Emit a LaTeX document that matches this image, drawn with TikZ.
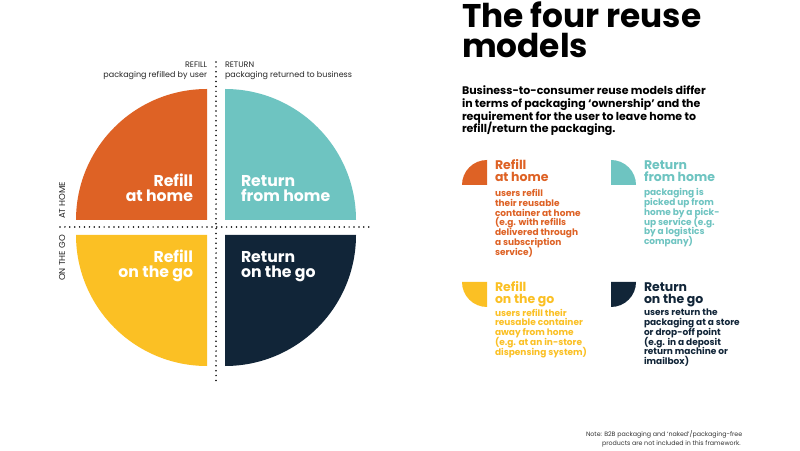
\documentclass[tikz,border=0pt]{standalone}
\usepackage{fontspec}
\setmainfont{Poppins}
\setlength{\lineskiplimit}{-30pt}
\definecolor{qorange}{RGB}{222,98,37}
\definecolor{qteal}{RGB}{110,196,193}
\definecolor{qyellow}{RGB}{251,192,36}
\definecolor{qnavy}{RGB}{17,37,56}
\begin{document}
\begin{tikzpicture}[x=1pt,y=1pt,
  every node/.style={inner sep=0pt, outer sep=0pt},
  dotline/.style={line width=1.7pt, line cap=round, dash pattern=on 0pt off 4.9pt},
  quadlabel/.style={text=white, font=\bfseries\fontsize{15.7}{15.5}\selectfont},
  axislabel/.style={font=\fontsize{8}{10}\selectfont, text=black!85},
  sidelabel/.style={font=\fontsize{8.6}{10}\selectfont, text=black!85, rotate=90},
  ltitle/.style={anchor=base west, align=left, font=\bfseries\fontsize{12.5}{11.7}\selectfont},
  ldesc/.style={anchor=base west, align=left, font=\bfseries\fontsize{9}{9.75}\selectfont},
]
\useasboundingbox[fill=white] (0,0) rectangle (800,450);

% quadrants
\fill[qorange] (207,230) -- (76,230) arc[start angle=180,end angle=90,radius=131pt] -- cycle;
\fill[qteal] (225,230) -- (225,361) arc[start angle=90,end angle=0,radius=131pt] -- cycle;
\fill[qyellow] (207,215) -- (207,84) arc[start angle=270,end angle=180,radius=131pt] -- cycle;
\fill[qnavy] (225,215) -- (356,215) arc[start angle=0,end angle=-90,radius=131pt] -- cycle;

% dotted axes
\coordinate (vtop) at (216,388);
\coordinate (vbot) at (216,65);
\coordinate (hleft) at (60,223);
\coordinate (hright) at (373,223);
\draw[dotline] (vtop) -- (vbot);
\draw[dotline] (hleft) -- (hright);

% axis labels
\node[axislabel, anchor=base east, align=right] (refill) at (207,372) {REFILL\\packaging refilled by user};
\node[axislabel, anchor=base west, align=left] (return) at (225,372) {RETURN\\packaging returned to business};
\node[sidelabel, anchor=base west] (athome) at (65,231) {AT HOME};
\node[sidelabel, anchor=base east] (onthego) at (65,215) {ON THE GO};

% quadrant labels
\node[quadlabel, anchor=base east, align=right] (q1) at (193,248) {Refill\\at home};
\node[quadlabel, anchor=base west, align=left] (q2) at (241,248) {Return\\from home};
\node[quadlabel, anchor=base east, align=right] (q3) at (193,172) {Refill\\on the go};
\node[quadlabel, anchor=base west, align=left] (q4) at (241,172) {Return\\on the go};

% title
\node[anchor=base west, align=left, font=\bfseries\fontsize{32.8}{30}\selectfont] (title) at (462,392) {The four reuse\\models};
\node[anchor=base west, align=left, font=\bfseries\fontsize{11}{12.7}\selectfont] (sub) at (462,317) {Business-to-consumer reuse models differ\\in terms of packaging ‘ownership’ and the\\requirement for the user to leave home to\\refill/return the packaging.};

% legend icons
\fill[qorange] (487,265) -- (462,265) arc[start angle=180,end angle=90,radius=25pt] -- cycle;
\fill[qteal] (611,265) -- (611,290) arc[start angle=90,end angle=0,radius=25pt] -- cycle;
\fill[qyellow] (487,168) -- (487,143) arc[start angle=270,end angle=180,radius=25pt] -- cycle;
\fill[qnavy] (611,168) -- (636,168) arc[start angle=0,end angle=-90,radius=25pt] -- cycle;

% legend texts
\node[ltitle, text=qorange] (t1) at (495,268.3) {Refill\\at home};
\node[ldesc, text=qorange] (d1) at (495,194.8) {users refill\\their reusable\\container at home\\(e.g. with refills\\delivered through\\a subscription\\service)};
\node[ltitle, text=qteal] (t2) at (644,268.3) {Return\\from home};
\node[ldesc, text=qteal] (d2) at (644,205.3) {packaging is\\picked up from\\home by a pick-\\up service (e.g.\\by a logistics\\company)};
\node[ltitle, text=qyellow] (t3) at (495,146.6) {Refill\\on the go};
\node[ldesc, text=qyellow] (d3) at (495,95) {users refill their\\reusable container\\away from home\\(e.g. at an in-store\\dispensing system)};
\node[ltitle, text=qnavy] (t4) at (644,146.6) {Return\\on the go};
\node[ldesc, text=qnavy] (d4) at (644,85.5) {users return the\\packaging at a store\\or drop-off point\\(e.g. in a deposit\\return machine or\\imailbox)};

% note
\node[anchor=base west, font=\fontsize{6.3}{8}\selectfont, text=black!80] (note1) at (586,14) {Note: B2B packaging and ‘naked’/packaging-free};
\node[anchor=base west, font=\fontsize{6.3}{8}\selectfont, text=black!80] (note2) at (602,5) {products are not included in this framework.};
\end{tikzpicture}
\end{document}
